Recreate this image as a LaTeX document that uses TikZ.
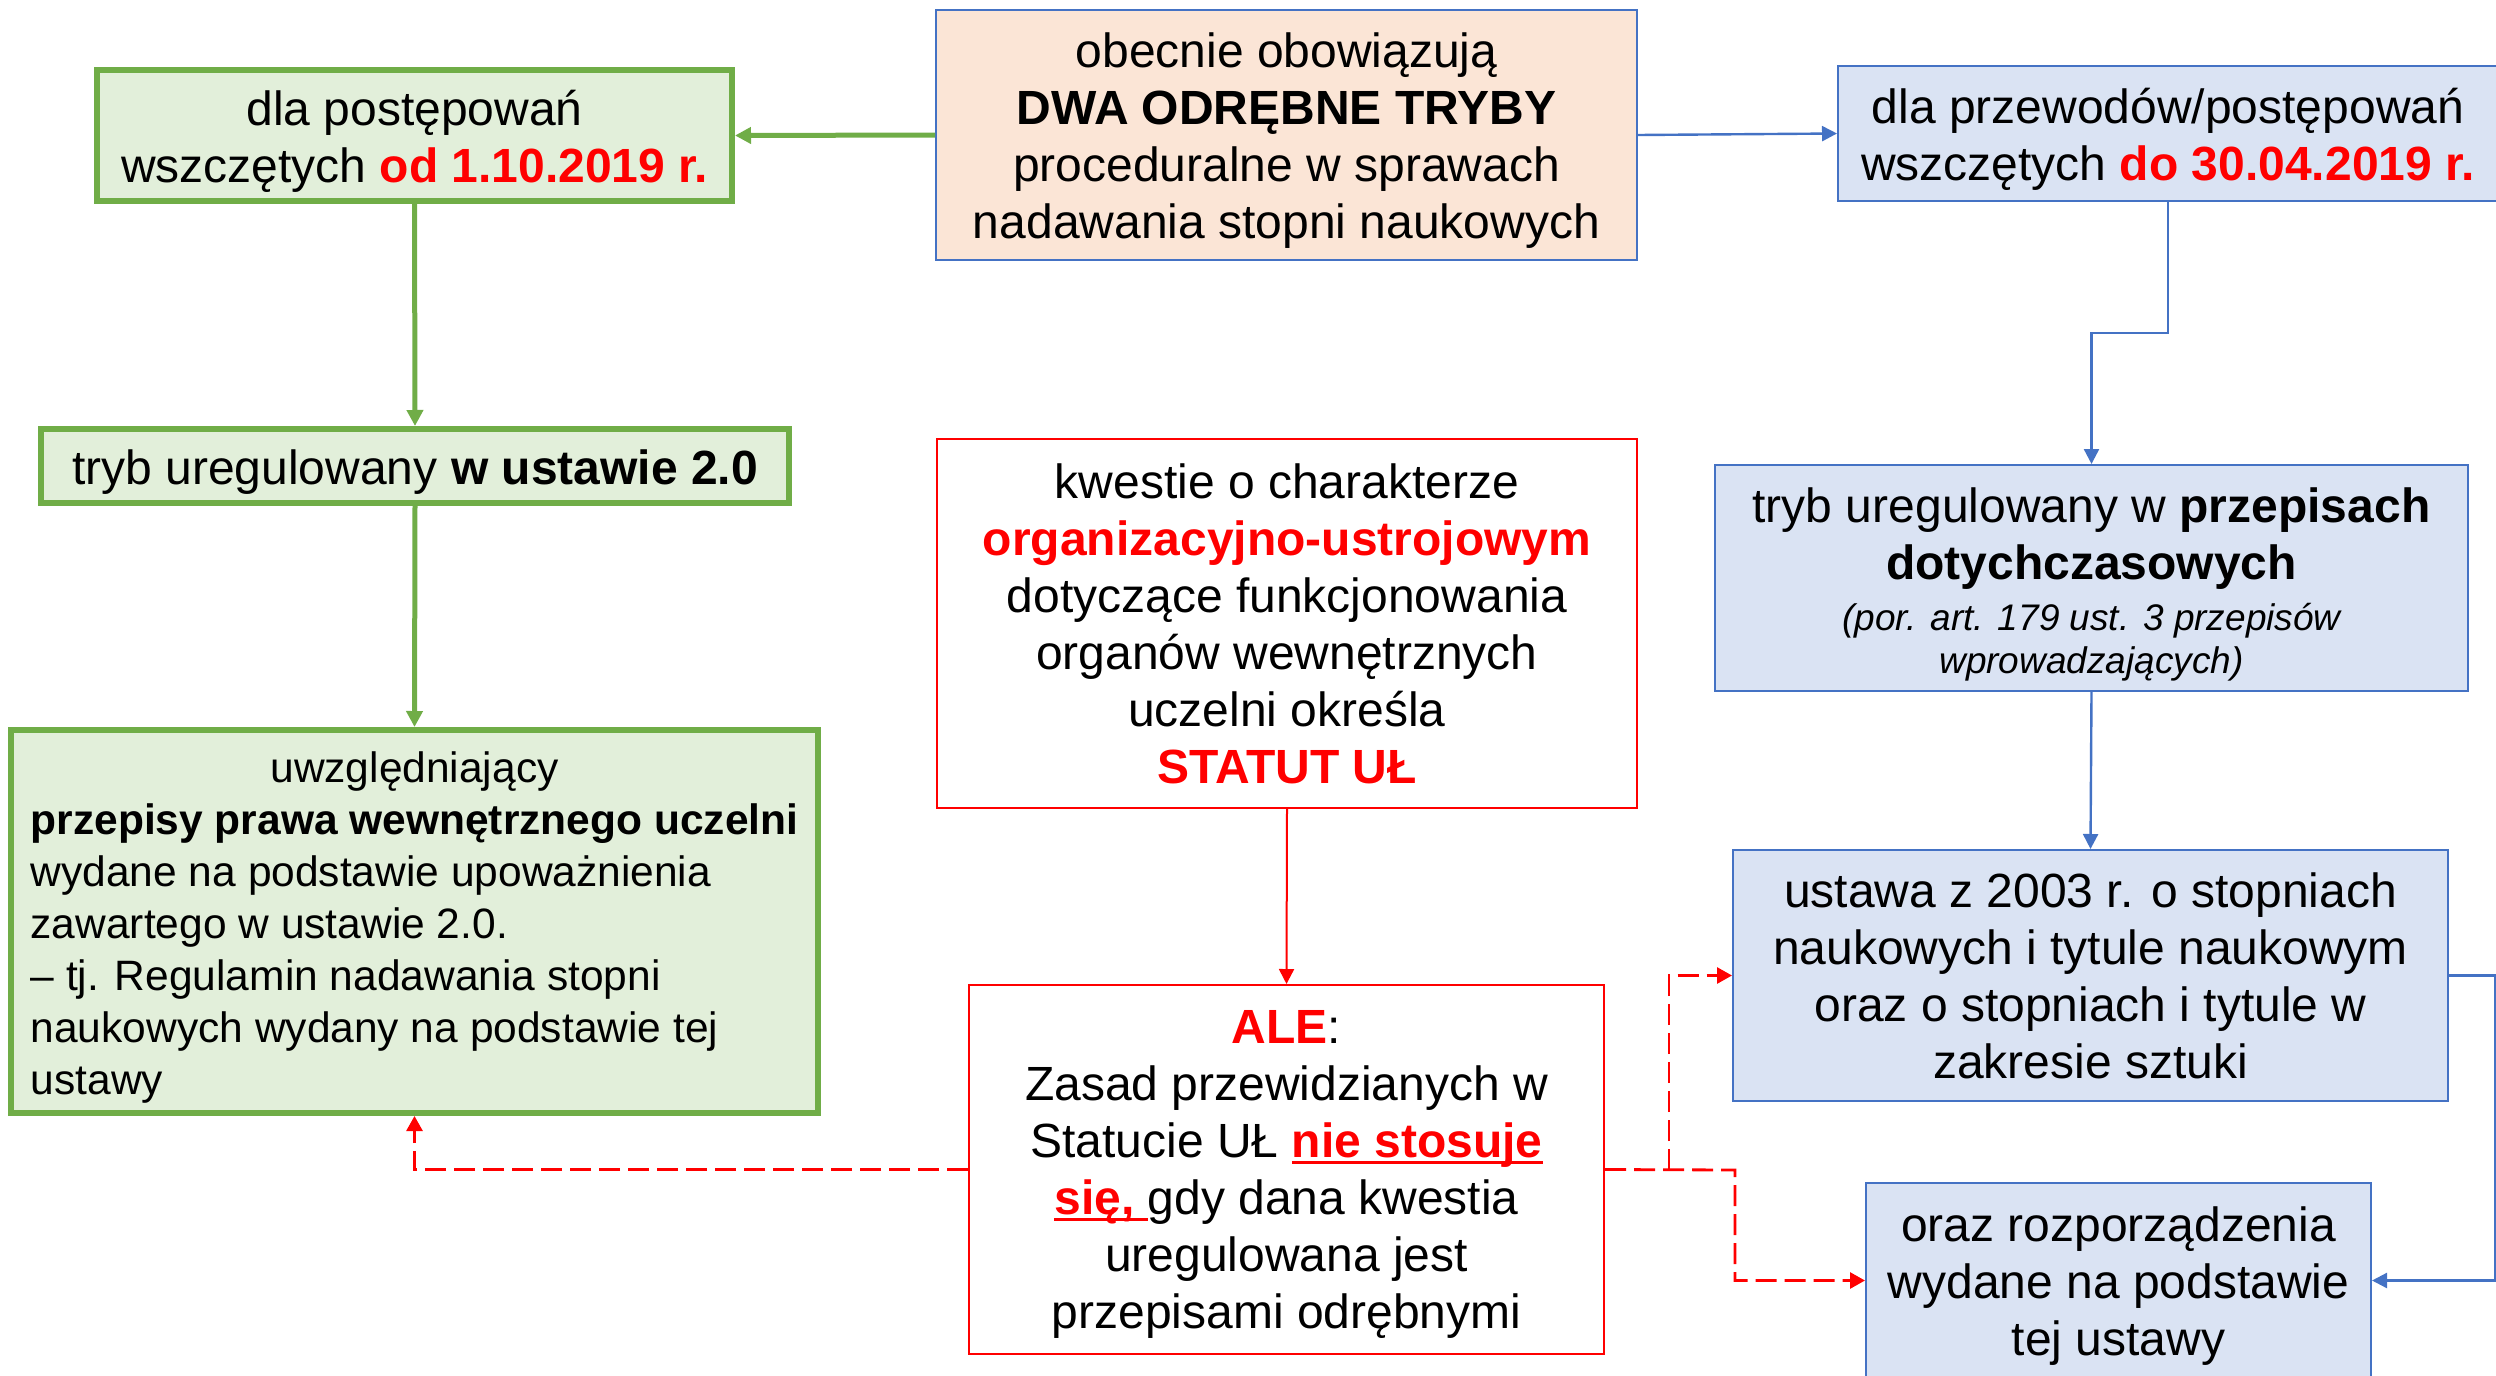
\documentclass[tikz,border=0pt]{standalone}
\usepackage{fontspec}
\setmainfont{Liberation Sans}
\usetikzlibrary{arrows.meta,calc}
\newcommand{\redul}[1]{\setbox0\hbox{#1}\rlap{\rule[-3.2pt]{\wd0}{1.6pt}}\box0}
\newcommand{\tst}{\rule{0pt}{23.5pt}}
\newcommand{\bst}{\rule[-5.5pt]{0pt}{5.5pt}}
\definecolor{gborder}{HTML}{70AD47}
\definecolor{gfill}{HTML}{E2EFDA}
\definecolor{bborder}{HTML}{4472C4}
\definecolor{bfill}{HTML}{DAE3F3}
\definecolor{pfill}{HTML}{FBE5D6}
\begin{document}
\begin{tikzpicture}[x=0.5pt,y=-0.5pt,
  basebox/.style={inner sep=0pt, align=center, font=\fontsize{24}{28.5}\selectfont},
  gbox/.style={basebox, draw=gborder, fill=gfill, line width=3pt},
  bbox/.style={basebox, draw=bborder, fill=bfill, line width=1pt},
  pbox/.style={basebox, draw=bborder, fill=pfill, line width=1pt},
  rbox/.style={basebox, draw=red, fill=white, line width=1pt},
  garrow/.style={draw=gborder, line width=2.5pt, -{Triangle[length=8pt,width=8pt]}},
  barrow/.style={draw=bborder, line width=1.2pt, -{Triangle[length=7.5pt,width=7.5pt]}},
  rarrow/.style={draw=red, line width=1pt, -{Triangle[length=7.5pt,width=7.5pt]}},
  rdash/.style={draw=red, line width=1.4pt, dash pattern=on 10.5pt off 4pt, -{Triangle[length=7.5pt,width=8pt]}}
]
\useasboundingbox (0,0) rectangle (2496,1376);

\node[pbox, minimum width=350.5pt, minimum height=125pt] (main) at (1286.5,135)
  {\tst obecnie obowiązują\\\textbf{DWA ODRĘBNE TRYBY}\\proceduralne w sprawach\\nadawania stopni naukowych\bst};

\node[gbox, minimum width=317.5pt, minimum height=65.5pt] (gtop) at (414.5,135.5)
  {\tst dla postępowań\\wszczętych \textcolor{red}{\textbf{od 1.10.2019 r.}}\bst};

\node[bbox, minimum width=330pt, minimum height=67.5pt] (btop) at (2168,133.5)
  {\tst dla przewodów/postępowań\\wszczętych \textcolor{red}{\textbf{do 30.04.2019 r.}}\bst};

\node[gbox, minimum width=374pt, minimum height=37pt] (gmid) at (415,466)
  {\tst tryb uregulowany \textbf{w ustawie 2.0}\bst};

\node[gbox, minimum width=403.5pt, minimum height=191.5pt, align=left,
  font=\fontsize{21.25}{26}\selectfont] (gbig) at (414.5,921.5)
  {\setbox0\hbox{\textbf{przepisy prawa wewnętrznego uczelni}}\hbox to \wd0{\hfil\rule{0pt}{22pt}uwzględniający\hfil}\\
   \textbf{przepisy prawa wewnętrznego uczelni}\\
   wydane na podstawie upoważnienia\\
   zawartego w ustawie 2.0.\\
   – tj. Regulamin nadawania stopni\\
   naukowych wydany na podstawie tej\\
   ustawy\rule[-4.6pt]{0pt}{4.6pt}};

\node[rbox, minimum width=350pt, minimum height=184.5pt] (kw) at (1287,623.5)
  {kwestie o charakterze\\
   \textcolor{red}{\textbf{organizacyjno-ustrojowym}}\\
   dotyczące funkcjonowania\\
   organów wewnętrznych\\
   uczelni określa\\
   \textcolor{red}{\textbf{STATUT UŁ}}};

\node[rbox, minimum width=317.5pt, minimum height=184.5pt] (ale) at (1286.5,1169.5)
  {\rule{0pt}{22pt}\textcolor{red}{\textbf{ALE}}:\\
   Zasad przewidzianych w\\
   Statucie UŁ {\color{red}\bfseries\redul{nie stosuje}}\\
   {\color{red}\bfseries\redul{się,\ }}gdy dana kwestia\\
   uregulowana jest\\
   przepisami odrębnymi\bst};

\node[bbox, minimum width=376.5pt, minimum height=113pt] (tryb) at (2091.5,578)
  {\tst tryb uregulowany w \textbf{przepisach}\\
   \textbf{dotychczasowych}\\[-3pt]
   {\fontsize{18.5}{21.5}\selectfont\itshape (por. art. 179 ust. 3 przepisów}\\[-7pt]
   {\fontsize{18.5}{21.5}\selectfont\itshape wprowadzających)}\rule[-3.5pt]{0pt}{3.5pt}};

\node[bbox, minimum width=357.5pt, minimum height=125.5pt] (ust) at (2090.5,975.5)
  {ustawa z 2003 r. o stopniach\\
   naukowych i tytule naukowym\\
   oraz o stopniach i tytule w\\
   zakresie sztuki};

\node[bbox, minimum width=252.5pt, minimum height=97.5pt] (rozp) at (2118.5,1280.5)
  {\tst oraz rozporządzenia\\
   wydane na podstawie\\
   tej ustawy\bst};

\coordinate (j1) at (1669,1170);
\coordinate (j2) at (1735,1170);
\coordinate (j3) at (2495,0);

\draw[garrow] (main.west) -- (gtop.east);
\draw[barrow] (main.east) -- (btop.west);
\draw[barrow] (btop.south) |- ($(btop.south)!0.5!(tryb.north)$) -| (tryb.north);
\draw[garrow] (gtop.south) -- (gmid.north);
\draw[garrow] (gmid.south) -- (gbig.north);
\draw[rarrow] (kw.south) -- (ale.north);
\draw[rdash] (ale.west) -| (gbig.south);
\draw[rdash] (ale.east) -- (j2) |- (rozp.west);
\draw[rdash] (j1) |- (ust.west);
\draw[barrow] (tryb.south) -- (ust.north);
\draw[barrow] (ust.east) -| (j3 |- rozp.east) -- (rozp.east);
\end{tikzpicture}
\end{document}
